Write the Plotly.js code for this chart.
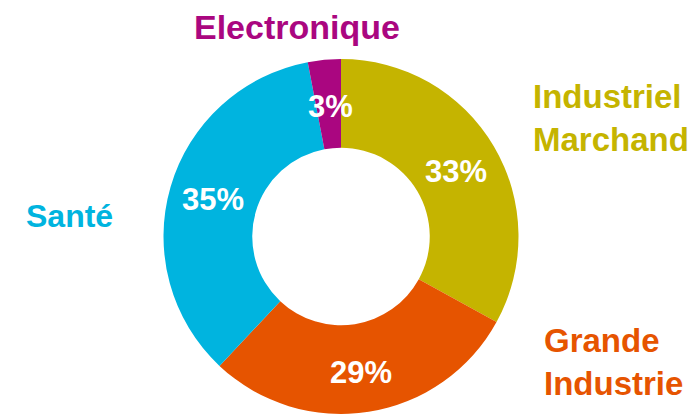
<!DOCTYPE html>
<html>
<head>
<meta charset="utf-8">
<script src="https://cdn.plot.ly/plotly-3.0.1.min.js"></script>
<style>html,body{margin:0;padding:0;background:#fff;overflow:hidden;}#chart{width:696px;height:414px;}</style>
</head>
<body>
<div id="chart"></div>
<script>
// Data
const categories = ["Industriel Marchand", "Grande Industrie", "Santé", "Electronique"];
const labelTexts = ["Industriel<br>Marchand", "Grande<br>Industrie", "Santé", "Electronique"];
const shares = [33, 29, 35, 3];
const colors = ["#C5B400", "#E65400", "#00B4DF", "#AA0680"];

// Label placements (pixel coordinates) and sizes — layout only
const pctPos = [[456, 171], [361, 372], [213, 199], [330, 106]];
const namePos = [[531, 118, "left"], [542, 362, "left"], [24, 216, "left"], [297, 27, "center"]];
const nameSize = [33, 33, 32, 34];

const W = 696, H = 414;
const pieCx = 341, pieTop = 59;
const domH = (H - pieTop) / H;
const half = (H - pieTop) / 2 / W;

const trace = {
  type: "pie",
  labels: categories,
  values: shares,
  marker: { colors: colors, line: { width: 0 } },
  hole: 0.5,
  sort: false,
  direction: "clockwise",
  rotation: 0,
  textinfo: "none",
  hoverinfo: "label+percent",
  showlegend: false,
  domain: { x: [pieCx / W - half, pieCx / W + half], y: [0, domH] }
};

const annotations = [];
shares.forEach((v, i) => {
  annotations.push({
    xref: "paper", yref: "paper",
    x: pctPos[i][0] / W, y: 1 - pctPos[i][1] / H,
    xanchor: "center", yanchor: "middle",
    text: "<b>" + v + "%</b>", showarrow: false,
    font: { family: "Liberation Sans, Arial, sans-serif", size: 31, color: "#ffffff" }
  });
  annotations.push({
    xref: "paper", yref: "paper",
    x: namePos[i][0] / W, y: 1 - namePos[i][1] / H,
    xanchor: namePos[i][2], yanchor: "middle", align: "left",
    text: "<b>" + labelTexts[i] + "</b>", showarrow: false,
    font: { family: "Liberation Sans, Arial, sans-serif", size: nameSize[i], color: colors[i] }
  });
});

const layout = {
  width: W, height: H,
  margin: { l: 0, r: 0, t: 0, b: 0 },
  paper_bgcolor: "#ffffff",
  plot_bgcolor: "#ffffff",
  annotations: annotations
};

Plotly.newPlot("chart", [trace], layout, { displayModeBar: false, staticPlot: true });
</script>
</body>
</html>
